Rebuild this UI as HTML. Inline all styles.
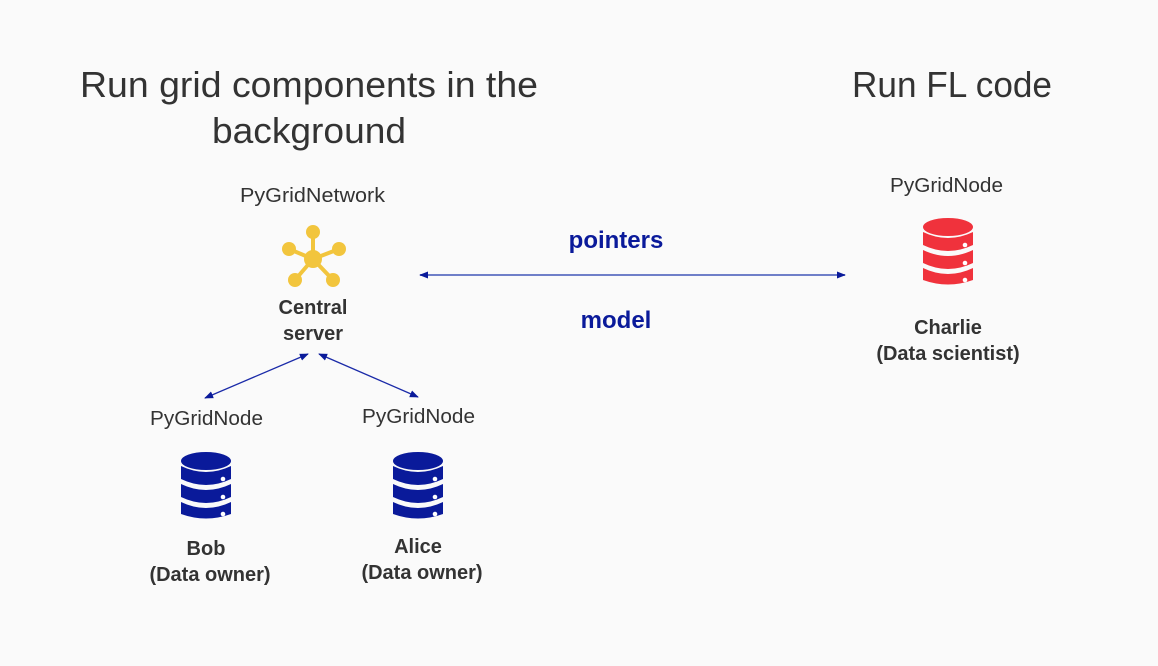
<!DOCTYPE html>
<html><head><meta charset="utf-8"><style>
html,body{margin:0;padding:0;background:#fafafa;}
svg{display:block;font-family:"Liberation Sans",sans-serif;}
</style></head><body>
<svg width="1158" height="666" viewBox="0 0 1158 666" xmlns="http://www.w3.org/2000/svg">
<rect width="1158" height="666" fill="#fafafa"/>
<defs>
<g id="db">
 <ellipse cx="25" cy="9" rx="25" ry="9"/>
 <path d="M0 14 Q25 26 50 14 L50 27 Q25 39 0 27 Z"/>
 <path d="M0 32 Q25 44 50 32 L50 45 Q25 57 0 45 Z"/>
 <path d="M0 50 Q25 62 50 50 L50 62 Q25 71 0 62 Z"/>
 <circle cx="42" cy="27" r="2.3" fill="#fff"/>
 <circle cx="42" cy="45" r="2.3" fill="#fff"/>
 <circle cx="42" cy="62" r="2.3" fill="#fff"/>
</g>
<marker id="ah" viewBox="0 0 10 10" refX="9" refY="5" markerWidth="9" markerHeight="9" orient="auto-start-reverse" markerUnits="userSpaceOnUse"><path d="M0 1 L10 5 L0 9 Z" fill="#0a1a9a"/></marker>
</defs>
<g fill="#333" font-size="36">
<text x="80" y="97" textLength="458" lengthAdjust="spacingAndGlyphs">Run grid components in the</text>
<text x="212" y="143" textLength="194" lengthAdjust="spacingAndGlyphs">background</text>
<text x="852" y="97" textLength="200" lengthAdjust="spacingAndGlyphs">Run FL code</text>
</g>
<g fill="#333" font-size="20">
<text x="240" y="202" textLength="145" lengthAdjust="spacingAndGlyphs">PyGridNetwork</text>
<text x="150" y="425" textLength="113" lengthAdjust="spacingAndGlyphs">PyGridNode</text>
<text x="362" y="423" textLength="113" lengthAdjust="spacingAndGlyphs">PyGridNode</text>
<text x="890" y="192" textLength="113" lengthAdjust="spacingAndGlyphs">PyGridNode</text>
</g>
<g fill="#333" font-size="20" font-weight="bold" text-anchor="middle">
<text x="313" y="314">Central</text>
<text x="313" y="340">server</text>
<text x="206" y="555">Bob</text>
<text x="210" y="581">(Data owner)</text>
<text x="418" y="553">Alice</text>
<text x="422" y="579">(Data owner)</text>
<text x="948" y="334">Charlie</text>
<text x="948" y="360">(Data scientist)</text>
</g>
<g fill="#0a1a9a" font-size="24" font-weight="bold" text-anchor="middle">
<text x="616" y="248">pointers</text>
<text x="616" y="328">model</text>
</g>
<!-- network icon -->
<g stroke="#f2c53d" stroke-width="4" fill="#f2c53d">
<line x1="313" y1="259" x2="313" y2="231"/>
<line x1="313" y1="259" x2="289" y2="249"/>
<line x1="313" y1="259" x2="339" y2="249"/>
<line x1="313" y1="259" x2="295" y2="280"/>
<line x1="313" y1="259" x2="333" y2="280"/>
</g>
<g fill="#f2c53d">
<circle cx="313" cy="259" r="9"/>
<circle cx="313" cy="232" r="7"/>
<circle cx="289" cy="249" r="7"/>
<circle cx="339" cy="249" r="7"/>
<circle cx="295" cy="280" r="7"/>
<circle cx="333" cy="280" r="7"/>
</g>
<!-- db icons -->
<use href="#db" x="181" y="452" fill="#0a1a9a"/>
<use href="#db" x="393" y="452" fill="#0a1a9a"/>
<use href="#db" x="923" y="218" fill="#f0323c"/>
<!-- arrows -->
<line x1="420" y1="275" x2="845" y2="275" stroke="#6f7fc8" stroke-width="2" marker-start="url(#ah)" marker-end="url(#ah)"/>
<line x1="308" y1="354" x2="205" y2="398" stroke="#1a2aa8" stroke-width="1.3" marker-start="url(#ah)" marker-end="url(#ah)"/>
<line x1="319" y1="354" x2="418" y2="397" stroke="#1a2aa8" stroke-width="1.3" marker-start="url(#ah)" marker-end="url(#ah)"/>
</svg>
</body></html>
